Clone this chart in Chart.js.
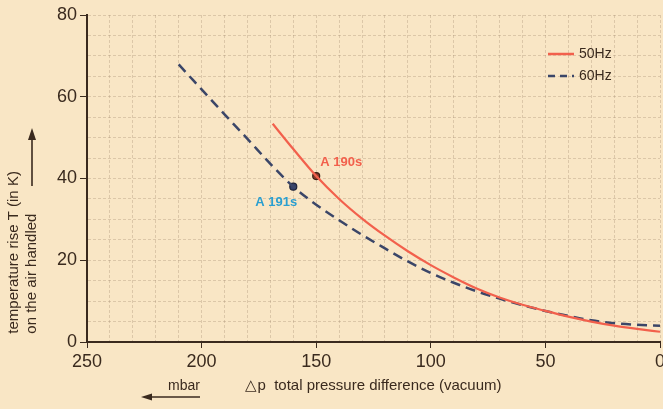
<!DOCTYPE html>
<html><head><meta charset="utf-8">
<script src="https://cdn.jsdelivr.net/npm/chart.js@4"></script>
<style>
html,body{margin:0;padding:0;overflow:hidden;background:#f9e6c5;width:663px;height:409px}
#wrap{width:672px;height:409px;position:relative}
</style></head>
<body><div id="wrap"><canvas id="c" width="672" height="409"></canvas></div>
<script>
// ---- data ----
const pressure50 = [169, 160, 150, 140, 130, 120, 110, 100, 90, 80, 70, 60, 50, 40, 30, 20, 10, 0];
const temp50     = [53.4, 47.2, 40.6, 35.0, 30.2, 26.0, 22.2, 18.8, 15.8, 13.1, 10.9, 9.1, 7.6, 6.2, 5.0, 4.0, 3.2, 2.5];
const pressure60 = [210, 200, 190, 180, 170, 160, 150, 140, 130, 120, 110, 100, 90, 80, 70, 60, 50, 40, 30, 20, 10, 0];
const temp60     = [67.9, 61.8, 55.7, 49.7, 43.6, 38.0, 33.6, 29.8, 26.2, 22.9, 19.7, 16.9, 14.5, 12.4, 10.6, 9.0, 7.6, 6.4, 5.3, 4.6, 4.2, 4.0];
const seriesNames = ['50Hz', '60Hz'];
const markerNames = ['A 190s', 'A 191s'];
const markerX = [150, 160];
const markerY = [40.6, 38.0];
const xTickLabels = [250, 200, 150, 100, 50, 0];
const yTickLabels = [0, 20, 40, 60, 80];
const yTitle = ['  temperature rise T (in K)', '  on the air handled'];
const xTitle = '\u25B3p  total pressure difference (vacuum)';
const unitLabel = 'mbar';

const RED = '#f2604c', NAVY = '#3b4668', BLUE = '#2b9fd0', INK = '#3a2a1e';
const GRID = 'rgba(160,135,110,0.32)';
const FONT = '"Liberation Sans", Arial, sans-serif';

const toPts = (xs, ys) => xs.map((x, i) => ({x, y: ys[i]}));

const decor = {
  id: 'decor',
  afterDatasetsDraw(chart) {
    const {ctx, chartArea: a, scales: {x, y}} = chart;
    ctx.save();
    // legend
    const lx0 = a.right - 112, lx1 = a.right - 86;
    const legendStyles = [{c: RED, d: []}, {c: NAVY, d: [7, 5]}];
    seriesNames.forEach((n, i) => {
      const ly = a.top + 39 + i * 22;
      ctx.strokeStyle = legendStyles[i].c; ctx.lineWidth = 2.5;
      ctx.setLineDash(legendStyles[i].d);
      ctx.beginPath(); ctx.moveTo(lx0, ly); ctx.lineTo(lx1, ly); ctx.stroke();
      ctx.setLineDash([]);
      ctx.fillStyle = INK; ctx.font = '14px ' + FONT;
      ctx.textAlign = 'left'; ctx.textBaseline = 'middle';
      ctx.fillText(n, lx1 + 5, ly);
    });
    // marker labels
    ctx.font = 'bold 13px ' + FONT;
    ctx.fillStyle = RED; ctx.textAlign = 'left'; ctx.textBaseline = 'middle';
    ctx.fillText(markerNames[0], x.getPixelForValue(markerX[0]) + 4, y.getPixelForValue(markerY[0]) - 14);
    ctx.fillStyle = BLUE; ctx.textAlign = 'right';
    ctx.fillText(markerNames[1], x.getPixelForValue(markerX[1]) + 4, y.getPixelForValue(markerY[1]) + 16);
    // y title arrow
    ctx.strokeStyle = INK; ctx.fillStyle = INK; ctx.lineWidth = 1.6;
    const ax = 32, ay0 = a.bottom - 156, ay1 = a.bottom - 204;
    ctx.beginPath(); ctx.moveTo(ax, ay0); ctx.lineTo(ax, ay1); ctx.stroke();
    ctx.beginPath(); ctx.moveTo(ax, ay1 - 10); ctx.lineTo(ax - 4, ay1 + 2); ctx.lineTo(ax + 4, ay1 + 2); ctx.closePath(); ctx.fill();
    // unit + left arrow
    ctx.font = '14px ' + FONT; ctx.textAlign = 'left'; ctx.textBaseline = 'middle';
    ctx.fillText(unitLabel, 168, 386);
    const bx0 = 200, bx1 = 150, by = 397;
    ctx.beginPath(); ctx.moveTo(bx0, by); ctx.lineTo(bx1, by); ctx.stroke();
    ctx.beginPath(); ctx.moveTo(bx1 - 9, by); ctx.lineTo(bx1 + 2, by - 3.5); ctx.lineTo(bx1 + 2, by + 3.5); ctx.closePath(); ctx.fill();
    ctx.restore();
  }
};

new Chart(document.getElementById('c'), {
  type: 'line',
  data: {
    datasets: [
      {label: seriesNames[0], data: toPts(pressure50, temp50), borderColor: RED, borderWidth: 2.2,
       pointRadius: 0, cubicInterpolationMode: 'monotone', fill: false},
      {label: seriesNames[1], data: toPts(pressure60, temp60), borderColor: NAVY, borderWidth: 2.5,
       borderDash: [10, 6], pointRadius: 0, cubicInterpolationMode: 'monotone', fill: false},
      {label: markerNames[0], data: [{x: markerX[0], y: markerY[0]}], showLine: false,
       pointRadius: 3.5, pointBackgroundColor: '#8a3a2a', pointBorderColor: '#3a1e14', pointBorderWidth: 1.2},
      {label: markerNames[1], data: [{x: markerX[1], y: markerY[1]}], showLine: false,
       pointRadius: 3.5, pointBackgroundColor: '#34406a', pointBorderColor: '#1e2238', pointBorderWidth: 1.2}
    ]
  },
  options: {
    responsive: false, animation: false, devicePixelRatio: 1,
    layout: {padding: {top: 15, right: 12, left: 0, bottom: 0}},
    plugins: {legend: {display: false}, tooltip: {enabled: false}},
    scales: {
      x: {
        type: 'linear', reverse: true, min: 0, max: 250,
        afterFit: s => { s.height = 67; },
        ticks: {stepSize: 10, autoSkip: false, maxRotation: 0, padding: 3, color: INK,
                font: {family: FONT, size: 18},
                callback: v => xTickLabels.includes(v) ? String(v) : ''},
        grid: {color: GRID, lineWidth: 1, tickLength: 6,
               tickColor: c => (c.tick && xTickLabels.includes(c.tick.value)) ? INK : 'rgba(0,0,0,0)'},
        border: {color: INK, width: 2, dash: [3, 2]},
        title: {display: true, text: xTitle, color: INK, font: {family: FONT, size: 15},
                padding: {top: 2, bottom: 14}}
      },
      y: {
        min: 0, max: 80,
        afterFit: s => { s.width = 87; },
        ticks: {stepSize: 5, autoSkip: false, padding: 3, color: INK,
                font: {family: FONT, size: 18},
                callback: v => yTickLabels.includes(v) ? String(v) : ''},
        grid: {color: GRID, lineWidth: 1, tickLength: 7,
               tickColor: c => (c.tick && yTickLabels.includes(c.tick.value)) ? INK : 'rgba(0,0,0,0)'},
        border: {color: INK, width: 2, dash: [3, 2]},
        title: {display: true, text: yTitle, align: 'start', color: INK,
                font: {family: FONT, size: 15, lineHeight: 1.2}, padding: {top: 5, bottom: 0}}
      }
    }
  },
  plugins: [decor]
});
</script></body></html>
